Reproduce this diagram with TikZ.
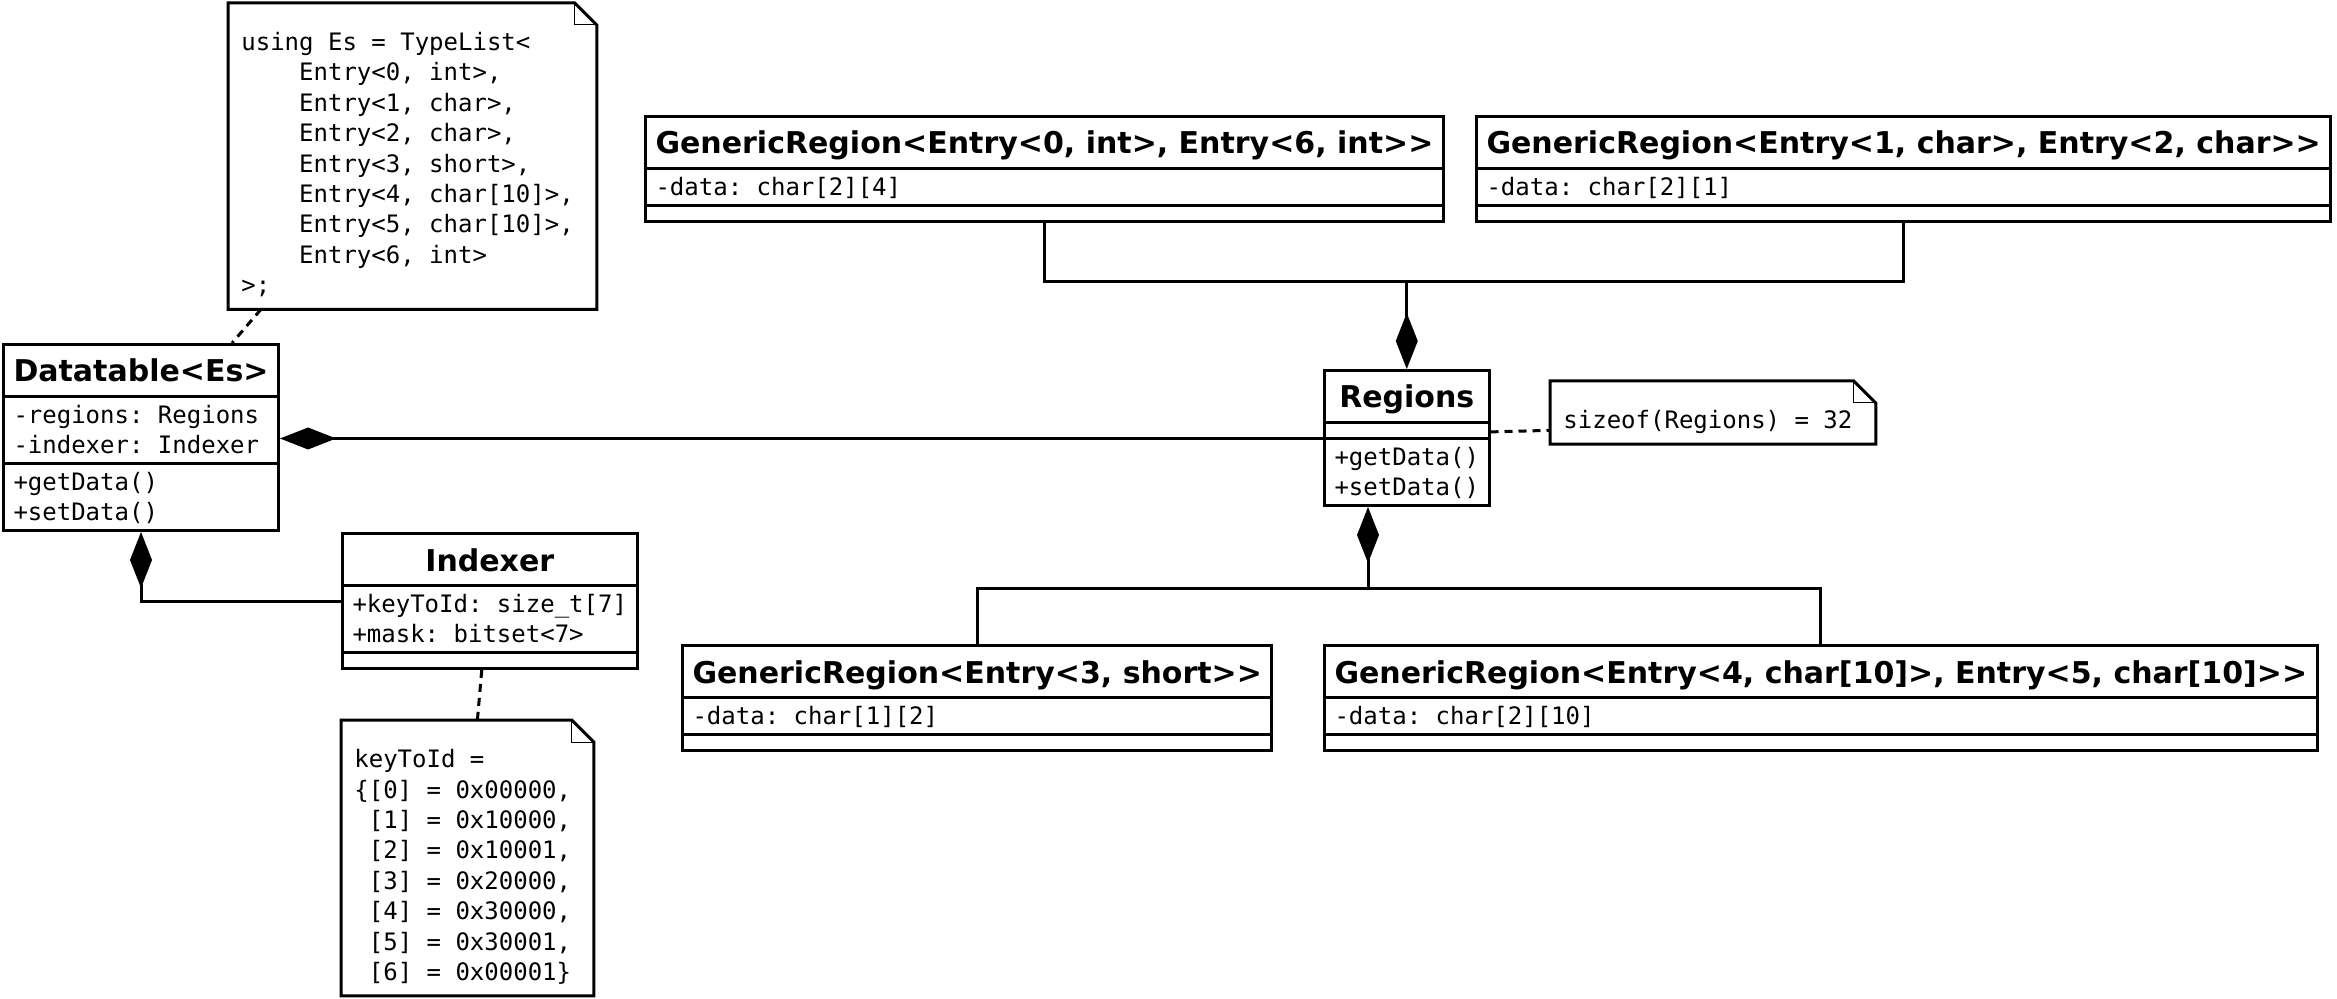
\documentclass[tikz,border=0pt]{standalone}
\usepackage{fontspec}
\setmonofont{DejaVu Sans Mono}
\newfontfamily\headfont{DejaVu Sans}
\usetikzlibrary{shapes.multipart, arrows.meta, positioning, calc}

\newcommand{\clsname}[1]{\rule[-5.5pt]{0pt}{22.5pt}{\headfont\bfseries\fontsize{15}{18}\selectfont #1}}
\newcommand{\upstrut}{\rule{0pt}{11.7pt}}
\newcommand{\dnstrut}{\rule[-3.3pt]{0pt}{0pt}}

\begin{document}
\begin{tikzpicture}[x=0.5pt, y=-0.5pt,
    umlclass/.style={draw, line width=1.5pt, rectangle split, rectangle split parts=3,
        rectangle split part align={center,left,left}, align=left,
        rectangle split empty part height=4.5pt, rectangle split empty part depth=0pt,
        inner xsep=5pt, inner ysep=1pt, anchor=north west,
        font=\ttfamily\fontsize{12}{15}\selectfont},
    umlnote/.style={anchor=north west, align=left, inner xsep=6.5pt, inner ysep=3pt,
        font=\ttfamily\fontsize{12}{15.2}\selectfont,
        execute at begin node={\spaceskip=0pt\xspaceskip=0pt\rule{0pt}{20.6pt}},
        execute at end node=\strut},
    comp/.style={line width=1.5pt, -{Diamond[length=28pt, width=11pt]}},
    link/.style={line width=1.5pt},
    notelink/.style={line width=1.5pt, dash pattern=on 4pt off 3pt}]
    \useasboundingbox (0,0) rectangle (2337,999);

    % --- Datatable and Indexer (left) ---
    \node[umlclass] (datatable) at (2,343) {\clsname{Datatable<Es>}
        \nodepart{second}\upstrut-regions: Regions\\-indexer: Indexer\dnstrut
        \nodepart{third}\upstrut+getData()\\+setData()\dnstrut};
    \node[umlclass] (indexer) at (341,532) {\clsname{Indexer}
        \nodepart{second}\upstrut+keyToId: size\_t[7]\\+mask: bitset<7>\dnstrut
        \nodepart{third}};

    % --- Regions ---
    \node[umlclass] (regions) at (1323,369) {\clsname{Regions}
        \nodepart{second}
        \nodepart{third}\upstrut+getData()\\+setData()\dnstrut};

    % --- GenericRegion classes ---
    \node[umlclass] (grA) at (644,115) {\clsname{GenericRegion<Entry<0, int>, Entry<6, int>>}
        \nodepart{second}\upstrut-data: char[2][4]\dnstrut
        \nodepart{third}};
    \node[umlclass] (grB) at (1475,115) {\clsname{GenericRegion<Entry<1, char>, Entry<2, char>>}
        \nodepart{second}\upstrut-data: char[2][1]\dnstrut
        \nodepart{third}};
    \node[umlclass] (grC) at (681,644) {\clsname{GenericRegion<Entry<3, short>>}
        \nodepart{second}\upstrut-data: char[1][2]\dnstrut
        \nodepart{third}};
    \node[umlclass] (grD) at (1323,644) {\clsname{GenericRegion<Entry<4, char[10]>, Entry<5, char[10]>>}
        \nodepart{second}\upstrut-data: char[2][10]\dnstrut
        \nodepart{third}};

    % --- Notes ---
    \node[umlnote, text width=171pt] (typenote) at (228,3) {using Es = TypeList<\\
        \phantom{xxxx}Entry<0, int>,\\
        \phantom{xxxx}Entry<1, char>,\\
        \phantom{xxxx}Entry<2, char>,\\
        \phantom{xxxx}Entry<3, short>,\\
        \phantom{xxxx}Entry<4, char[10]>,\\
        \phantom{xxxx}Entry<5, char[10]>,\\
        \phantom{xxxx}Entry<6, int>\\
        >;};
    \node[umlnote, text width=149.5pt] (sizenote) at (1550,381) {sizeof(Regions) = 32};
    \node[umlnote, text width=113pt] (keynote) at (341,720) {keyToId =\\
        \{[0] = 0x00000,\\
        \phantom{\{}[1] = 0x10000,\\
        \phantom{\{}[2] = 0x10001,\\
        \phantom{\{}[3] = 0x20000,\\
        \phantom{\{}[4] = 0x30000,\\
        \phantom{\{}[5] = 0x30001,\\
        \phantom{\{}[6] = 0x00001\}};
    \foreach \n in {typenote, sizenote, keynote} {
        \draw[line width=1.5pt] (\n.north west) -- ([xshift=-11pt]\n.north east)
            -- ([yshift=-11pt]\n.north east) -- (\n.south east) -- (\n.south west) -- cycle;
        \draw[line width=0.5pt] ([xshift=-11pt]\n.north east) |- ([yshift=-11pt]\n.north east);
    }

    % --- Connectors ---
    \coordinate (topbus) at (regions.north |- 0,282);
    \coordinate (botbus) at (1368,588);
    \draw[link] (grA.south) |- (topbus) -| (grB.south);
    \draw[comp] (topbus) -- (regions.north);
    \draw[link] (grC.north) |- (botbus) -| (grD.north);
    \draw[comp] (botbus) -- (botbus |- regions.south);
    \draw[comp] (regions.two split west) -- (regions.two split west -| datatable.east);
    \draw[comp] (indexer.west) -| (datatable.south);
    \draw[notelink] ([xshift=16.5pt]typenote.south west) -- ([xshift=-24pt]datatable.north east);
    \draw[notelink] ([yshift=3.3pt]regions.two split east) -- ([yshift=-8.9pt]sizenote.west);
    \draw[notelink] ([xshift=-4pt]indexer.south) -- ([xshift=5pt]keynote.north);
\end{tikzpicture}
\end{document}
